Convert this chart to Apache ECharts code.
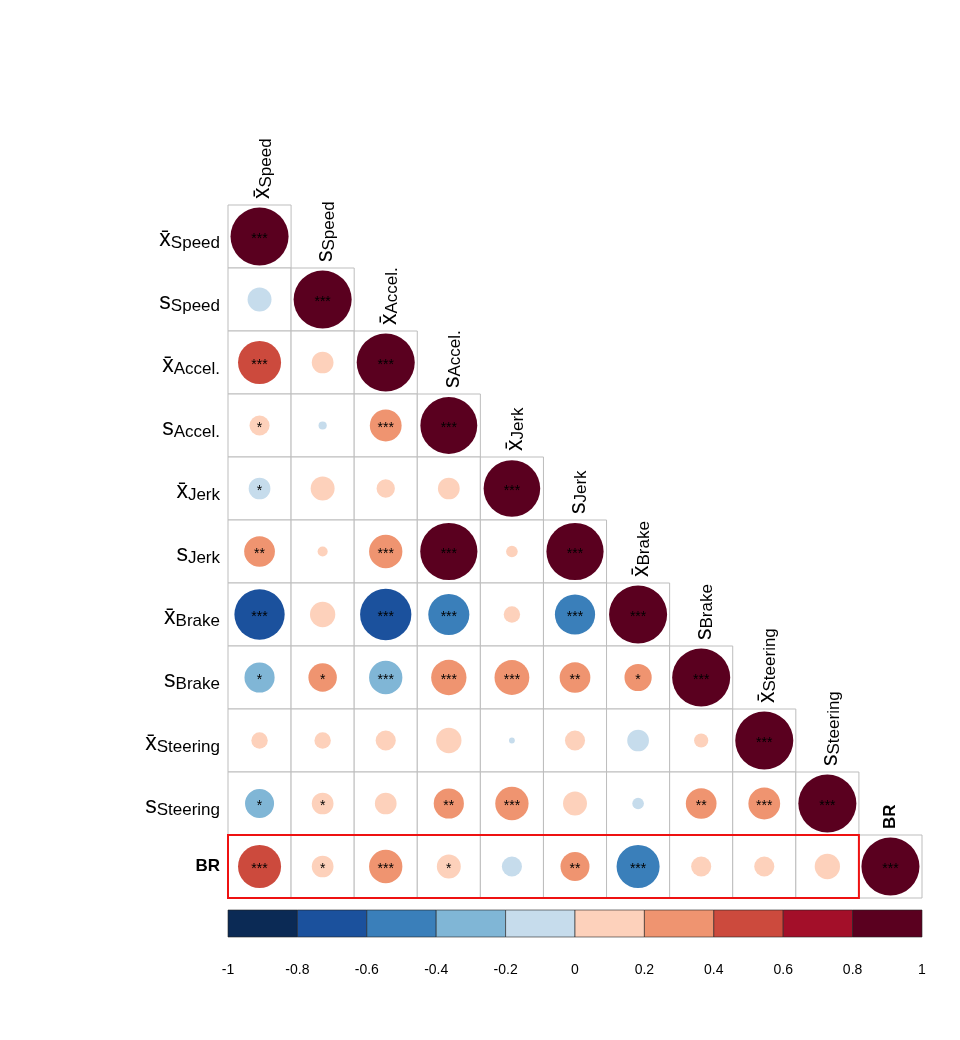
<!DOCTYPE html>
<html>
<head>
    <meta charset="utf-8">
    <script src="https://cdn.jsdelivr.net/npm/echarts@6/dist/echarts.min.js"></script>
</head>
<body style="margin:0;background:#fff">
    <div id="main" style="width: 960px;height:1040px;"></div>
    <script type="text/javascript">
        var myChart = echarts.init(document.getElementById('main'));

        // variable labels: [prefix, subscript]
        var varNames = [
            ['x̄', 'Speed'], ['s', 'Speed'], ['x̄', 'Accel.'], ['s', 'Accel.'],
            ['x̄', 'Jerk'], ['s', 'Jerk'], ['x̄', 'Brake'], ['s', 'Brake'],
            ['x̄', 'Steering'], ['s', 'Steering'], ['BR', '']
        ];

        // lower triangle of the correlation matrix (row by row)
        var corr = [
            [1],
            [-0.17, 1],
            [0.55, 0.14, 1],
            [0.12, -0.02, 0.30, 0.96],
            [-0.14, 0.17, 0.10, 0.14, 0.95],
            [0.28, 0.03, 0.33, 0.97, 0.04, 0.97],
            [-0.75, 0.19, -0.78, -0.50, 0.08, -0.48, 1],
            [-0.27, 0.24, -0.33, 0.37, 0.36, 0.28, 0.22, 1],
            [0.08, 0.08, 0.12, 0.19, -0.01, 0.12, -0.14, 0.06, 1],
            [-0.25, 0.14, 0.14, 0.27, 0.33, 0.17, -0.04, 0.28, 0.30, 1],
            [0.55, 0.14, 0.33, 0.17, -0.12, 0.25, -0.55, 0.12, 0.12, 0.19, 1]
        ];

        // significance stars, same layout
        var stars = [
            ['***'],
            ['', '***'],
            ['***', '', '***'],
            ['*', '', '***', '***'],
            ['*', '', '', '', '***'],
            ['**', '', '***', '***', '', '***'],
            ['***', '', '***', '***', '', '***', '***'],
            ['*', '*', '***', '***', '***', '**', '*', '***'],
            ['', '', '', '', '', '', '', '', '***'],
            ['*', '*', '', '**', '***', '', '', '**', '***', '***'],
            ['***', '*', '***', '*', '', '**', '***', '', '', '', '***']
        ];

        var barTicks = [-1, -0.8, -0.6, -0.4, -0.2, 0, 0.2, 0.4, 0.6, 0.8, 1];
        var palette = ['#0b2a55', '#1b519d', '#3a7fba', '#80b6d6', '#c6dcec',
                       '#fdd1bb', '#ef9470', '#cc4a3d', '#a30f29', '#5a001f'];

        function colorOf(v) {
            var k = Math.floor((v + 1) / 0.2);
            if (k > 9) k = 9;
            if (k < 0) k = 0;
            return palette[k];
        }

        var cells = [];
        corr.forEach(function (row, i) {
            row.forEach(function (v, j) {
                cells.push([j, i, v, stars[i][j]]);
            });
        });
        var labelIdx = varNames.map(function (n, i) { return [i, i]; });
        var bins = [];
        for (var b = 0; b < 10; b++) bins.push([barTicks[b], barTicks[b + 1], palette[b]]);

        var rich = {
            m: { fontSize: 23, fontFamily: 'Liberation Sans', color: '#000', verticalAlign: 'bottom', lineHeight: 30 },
            s: { fontSize: 17, fontFamily: 'Liberation Sans', color: '#000', verticalAlign: 'bottom', lineHeight: 22 },
            b: { fontSize: 17, fontWeight: 'bold', fontFamily: 'Liberation Sans', color: '#000' }
        };
        function labelText(n) {
            if (n[1] === '') return '{b|' + n[0] + '}';
            return '{m|' + n[0] + '}{s|' + n[1] + '}';
        }

        var option = {
            animation: false,
            grid: [
                { left: 228, top: 205, width: 694, height: 693 },
                { left: 228, top: 910, width: 694, height: 27 }
            ],
            xAxis: [
                { type: 'category', gridIndex: 0, data: varNames.map(function (n, i) { return i; }), show: false },
                { type: 'value', gridIndex: 1, min: -1, max: 1, interval: 0.2,
                  axisLine: { show: false }, axisTick: { show: false }, splitLine: { show: false },
                  axisLabel: { margin: 26, fontSize: 14, color: '#000', fontFamily: 'Liberation Sans',
                               formatter: function (v) { return String(Math.round(v * 10) / 10); } } }
            ],
            yAxis: [
                { type: 'category', gridIndex: 0, inverse: true, data: varNames.map(function (n, i) { return i; }), show: false },
                { type: 'value', gridIndex: 1, min: 0, max: 1, show: false }
            ],
            series: [
                {
                    type: 'custom', xAxisIndex: 0, yAxisIndex: 0, data: cells,
                    renderItem: function (params, api) {
                        var c = api.coord([api.value(0), api.value(1)]);
                        var s = api.size([1, 1]);
                        var v = api.value(2);
                        var st = cells[params.dataIndex][3];
                        var r = 0.46 * s[0] * Math.sqrt(Math.abs(v));
                        return { type: 'group', children: [
                            { type: 'rect', shape: { x: c[0] - s[0] / 2, y: c[1] - s[1] / 2, width: s[0], height: s[1] },
                              style: { fill: '#fff', stroke: '#bdbdbd', lineWidth: 1 } },
                            { type: 'circle', shape: { cx: c[0], cy: c[1], r: r }, style: { fill: colorOf(v) } },
                            { type: 'text', x: c[0], y: c[1] + 3,
                              style: { text: st, fontSize: 14, fill: '#000', align: 'center', verticalAlign: 'middle',
                                       fontFamily: 'Liberation Sans' } }
                        ] };
                    }
                },
                {
                    type: 'custom', xAxisIndex: 0, yAxisIndex: 0, data: labelIdx, z: 5,
                    renderItem: function (params, api) {
                        var i = api.value(0);
                        var c = api.coord([i, i]);
                        var c0 = api.coord([0, i]);
                        var s = api.size([1, 1]);
                        var txt = labelText(varNames[i]);
                        var ch = [
                            { type: 'text', x: c0[0] - s[0] / 2 - 8, y: c0[1],
                              style: { text: txt, rich: rich, align: 'right', verticalAlign: 'middle' } },
                            { type: 'text', x: c[0], y: c[1] - s[1] / 2 - 6, rotation: Math.PI / 2,
                              style: { text: txt, rich: rich, align: 'left', verticalAlign: 'middle' } }
                        ];
                        if (i === varNames.length - 1) {
                            ch.push({ type: 'rect',
                                shape: { x: c0[0] - s[0] / 2, y: c0[1] - s[1] / 2, width: s[0] * (varNames.length - 1), height: s[1] },
                                style: { fill: 'none', stroke: '#ee1111', lineWidth: 2 } });
                        }
                        return { type: 'group', children: ch };
                    }
                },
                {
                    type: 'custom', xAxisIndex: 1, yAxisIndex: 1, data: bins,
                    renderItem: function (params, api) {
                        var p0 = api.coord([api.value(0), 1]);
                        var p1 = api.coord([api.value(1), 0]);
                        return { type: 'rect', shape: { x: p0[0], y: p0[1], width: p1[0] - p0[0], height: p1[1] - p0[1] },
                                 style: { fill: bins[params.dataIndex][2], stroke: '#222', lineWidth: 0.6 } };
                    }
                }
            ]
        };

        myChart.setOption(option);
    </script>
</body>
</html>
